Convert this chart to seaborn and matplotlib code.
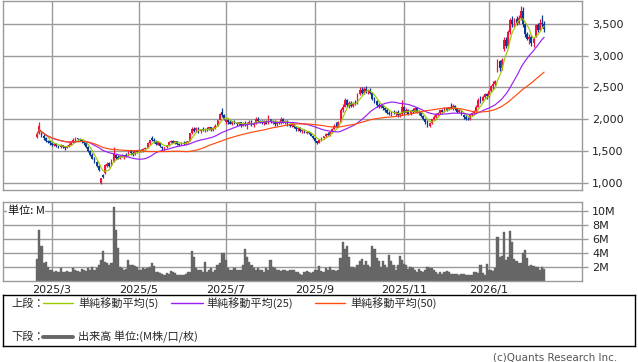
import numpy as np
import pandas as pd
import matplotlib
matplotlib.use("Agg")
import matplotlib.pyplot as plt
import seaborn as sns

# ---------------- data ----------------
start_date = "2025-02-19"
jp_holidays = ["2025-02-24", "2025-03-20", "2025-04-29", "2025-05-05", "2025-05-06",
               "2025-07-21", "2025-08-11", "2025-09-15", "2025-09-23", "2025-10-13",
               "2025-11-03", "2025-11-24", "2025-12-31", "2026-01-01", "2026-01-02",
               "2026-01-12", "2026-02-11"]

open_ = [1720, 1780, 1800, 1740, 1700, 1660, 1650, 1620, 1590, 1610,
         1580, 1560, 1590, 1560, 1550, 1570, 1600, 1640, 1680, 1700,
         1690, 1680, 1660, 1620, 1560, 1500, 1440, 1380, 1320, 1260,
         1000, 1120, 1150, 1270, 1310, 1280, 1340, 1440, 1400, 1390,
         1420, 1410, 1440, 1430, 1500, 1470, 1450, 1500, 1490, 1510,
         1500, 1530, 1550, 1620, 1700, 1680, 1650, 1600, 1630, 1570,
         1540, 1560, 1590, 1640, 1660, 1630, 1650, 1610, 1600, 1630,
         1610, 1640, 1660, 1780, 1850, 1830, 1860, 1810, 1840, 1830,
         1850, 1840, 1870, 1830, 1860, 1900, 1990, 2120, 2060, 1960,
         1990, 1950, 1930, 1960, 1940, 1920, 1950, 1900, 1940, 1920,
         1930, 1960, 1910, 1940, 2010, 1970, 1960, 1940, 1970, 1930,
         2000, 1950, 1960, 1920, 1950, 1940, 2000, 1960, 1970, 1910,
         1890, 1920, 1870, 1840, 1860, 1810, 1830, 1790, 1800, 1780,
         1740, 1700, 1650, 1630, 1670, 1700, 1730, 1760, 1750, 1800,
         1850, 1900, 1880, 1960, 2150, 2200, 2300, 2230, 2260, 2210,
         2250, 2250, 2400, 2460, 2420, 2480, 2440, 2460, 2410, 2320,
         2280, 2230, 2200, 2220, 2170, 2150, 2100, 2080, 2110, 2090,
         2120, 2060, 2080, 2200, 2100, 2150, 2080, 2140, 2120, 2180,
         2100, 2120, 2050, 2000, 1950, 1900, 1940, 2000, 2040, 2080,
         2100, 2140, 2120, 2170, 2150, 2190, 2180, 2210, 2160, 2120,
         2140, 2070, 2030, 2010, 2000, 2060, 2100, 2130, 2200, 2300,
         2280, 2350, 2400, 2360, 2440, 2520, 2560, 2750, 2920, 2800,
         3100, 3250, 3150, 3380, 3560, 3480, 3580, 3520, 3600, 3700,
         3500, 3340, 3260, 3300, 3200, 3300, 3480, 3400, 3520, 3500]

high = [1790, 1950, 1810, 1760, 1720, 1680, 1660, 1640, 1630, 1620,
        1590, 1610, 1600, 1580, 1590, 1620, 1660, 1700, 1720, 1710,
        1700, 1690, 1670, 1630, 1580, 1510, 1460, 1400, 1340, 1280,
        1080, 1140, 1300, 1320, 1330, 1380, 1560, 1450, 1430, 1440,
        1450, 1440, 1460, 1520, 1510, 1500, 1520, 1520, 1530, 1530,
        1540, 1560, 1640, 1680, 1730, 1700, 1670, 1650, 1640, 1580,
        1570, 1600, 1650, 1680, 1670, 1660, 1660, 1630, 1640, 1650,
        1650, 1660, 1790, 1870, 1880, 1880, 1870, 1850, 1870, 1860,
        1870, 1880, 1880, 1870, 1920, 1990, 2100, 2180, 2080, 2010,
        2000, 1980, 1970, 1990, 1960, 1960, 1960, 1950, 1970, 1950,
        1980, 1980, 1950, 2040, 2030, 1990, 1990, 1980, 1980, 2070,
        2010, 1980, 1980, 1960, 1970, 2040, 2020, 1990, 1980, 1930,
        1940, 1930, 1880, 1880, 1870, 1840, 1840, 1820, 1810, 1790,
        1750, 1710, 1660, 1680, 1720, 1740, 1780, 1800, 1810, 1860,
        1920, 1960, 1970, 2180, 2240, 2340, 2320, 2280, 2280, 2270,
        2300, 2420, 2510, 2500, 2500, 2530, 2480, 2490, 2430, 2350,
        2300, 2260, 2240, 2230, 2200, 2180, 2130, 2120, 2150, 2130,
        2140, 2100, 2300, 2210, 2170, 2160, 2150, 2180, 2200, 2190,
        2140, 2130, 2060, 2020, 1980, 1960, 2010, 2060, 2100, 2120,
        2150, 2160, 2190, 2200, 2200, 2250, 2240, 2220, 2180, 2160,
        2150, 2080, 2060, 2040, 2080, 2120, 2140, 2220, 2330, 2360,
        2380, 2420, 2420, 2460, 2540, 2600, 2620, 2950, 2940, 2960,
        3300, 3300, 3400, 3600, 3620, 3600, 3620, 3640, 3780, 3760,
        3520, 3380, 3340, 3320, 3300, 3500, 3520, 3580, 3640, 3540]

low = [1710, 1770, 1720, 1680, 1640, 1620, 1600, 1580, 1580, 1560,
       1540, 1550, 1540, 1520, 1540, 1560, 1590, 1630, 1660, 1660,
       1650, 1630, 1600, 1540, 1490, 1420, 1370, 1310, 1250, 1180,
       980, 1070, 1140, 1240, 1250, 1270, 1330, 1370, 1370, 1370,
       1400, 1380, 1410, 1420, 1440, 1420, 1440, 1470, 1480, 1480,
       1490, 1510, 1540, 1600, 1660, 1630, 1600, 1590, 1570, 1520,
       1520, 1540, 1580, 1620, 1620, 1610, 1600, 1580, 1590, 1600,
       1600, 1620, 1650, 1760, 1800, 1800, 1790, 1790, 1810, 1800,
       1820, 1830, 1820, 1810, 1850, 1890, 1980, 2040, 1990, 1920,
       1930, 1920, 1910, 1930, 1900, 1910, 1880, 1890, 1900, 1840,
       1920, 1900, 1880, 1930, 1950, 1940, 1920, 1910, 1920, 1920,
       1940, 1920, 1900, 1890, 1930, 1930, 1940, 1920, 1900, 1870,
       1880, 1860, 1820, 1820, 1800, 1790, 1780, 1770, 1770, 1730,
       1690, 1640, 1610, 1620, 1660, 1690, 1720, 1740, 1740, 1790,
       1840, 1870, 1870, 1950, 2120, 2190, 2200, 2180, 2190, 2200,
       2220, 2240, 2380, 2400, 2400, 2420, 2400, 2390, 2300, 2260,
       2200, 2180, 2170, 2150, 2120, 2080, 2060, 2050, 2080, 2050,
       2040, 2040, 2060, 2080, 2090, 2060, 2070, 2100, 2110, 2090,
       2060, 2040, 1980, 1920, 1870, 1880, 1930, 1980, 2020, 2050,
       2080, 2100, 2110, 2130, 2140, 2160, 2150, 2140, 2100, 2090,
       2060, 2010, 1990, 1980, 1990, 2050, 2080, 2120, 2190, 2260,
       2270, 2330, 2320, 2350, 2430, 2480, 2520, 2740, 2760, 2780,
       3080, 3120, 3140, 3350, 3460, 3450, 3480, 3500, 3560, 3450,
       3300, 3240, 3180, 3150, 3140, 3290, 3380, 3390, 3460, 3380]

close = [1770, 1900, 1740, 1700, 1660, 1640, 1620, 1600, 1610, 1580,
         1560, 1590, 1560, 1550, 1570, 1600, 1640, 1680, 1700, 1690,
         1680, 1660, 1620, 1560, 1500, 1440, 1380, 1320, 1260, 1200,
         1070, 1090, 1280, 1300, 1270, 1360, 1450, 1390, 1380, 1420,
         1410, 1430, 1420, 1500, 1460, 1440, 1500, 1480, 1520, 1490,
         1530, 1550, 1620, 1670, 1680, 1650, 1610, 1640, 1580, 1540,
         1560, 1590, 1640, 1660, 1630, 1650, 1610, 1600, 1630, 1610,
         1640, 1650, 1780, 1850, 1820, 1860, 1800, 1840, 1830, 1850,
         1840, 1870, 1830, 1860, 1900, 1980, 2080, 2060, 2000, 1990,
         1950, 1930, 1960, 1940, 1920, 1950, 1900, 1940, 1920, 1930,
         1960, 1910, 1940, 2010, 1970, 1960, 1940, 1970, 1930, 2040,
         1950, 1960, 1920, 1950, 1940, 2000, 1960, 1970, 1910, 1890,
         1920, 1870, 1840, 1860, 1810, 1830, 1790, 1800, 1780, 1740,
         1700, 1650, 1630, 1670, 1700, 1730, 1760, 1750, 1800, 1850,
         1900, 1880, 1950, 2150, 2200, 2300, 2230, 2260, 2210, 2250,
         2240, 2400, 2460, 2420, 2480, 2440, 2460, 2410, 2320, 2280,
         2230, 2200, 2220, 2170, 2150, 2100, 2080, 2110, 2090, 2120,
         2060, 2080, 2200, 2100, 2150, 2080, 2140, 2120, 2180, 2100,
         2120, 2050, 2000, 1950, 1900, 1940, 2000, 2040, 2080, 2100,
         2140, 2120, 2170, 2150, 2190, 2180, 2210, 2160, 2120, 2140,
         2070, 2030, 2010, 2000, 2060, 2100, 2130, 2200, 2300, 2280,
         2350, 2400, 2360, 2440, 2520, 2560, 2600, 2920, 2800, 2940,
         3250, 3150, 3380, 3560, 3500, 3580, 3520, 3600, 3700, 3500,
         3340, 3260, 3300, 3200, 3270, 3480, 3400, 3520, 3500, 3420]

volume_m = [3.1, 7.3, 5.0, 2.6, 2.7, 1.9, 1.6, 1.5, 1.3, 1.4,
            1.2, 1.8, 1.3, 1.2, 1.4, 1.3, 1.3, 1.8, 1.6, 1.4,
            1.3, 1.7, 1.5, 1.4, 1.8, 1.5, 2.0, 1.6, 1.8, 2.2,
            3.0, 4.2, 2.7, 2.5, 2.3, 2.5, 10.6, 7.3, 4.7, 2.0,
            1.8, 1.5, 1.7, 2.9, 2.3, 2.3, 2.1, 2.0, 1.6, 1.5,
            1.8, 1.7, 1.8, 1.9, 2.6, 2.1, 1.3, 1.2, 1.1, 0.9,
            0.8, 1.1, 1.0, 1.4, 1.2, 1.1, 0.8, 0.8, 0.8, 0.8,
            0.9, 1.2, 1.3, 4.3, 3.4, 1.8, 1.6, 1.5, 1.3, 2.7,
            1.2, 1.5, 1.8, 1.3, 1.5, 2.3, 2.5, 4.0, 4.0, 2.9,
            1.8, 1.5, 1.6, 1.8, 1.6, 1.5, 1.6, 2.3, 4.6, 3.4,
            2.7, 2.3, 1.8, 1.5, 1.8, 1.6, 1.5, 1.3, 1.8, 1.5,
            2.9, 2.0, 1.8, 1.6, 1.5, 1.4, 1.6, 1.6, 1.4, 1.6,
            1.6, 1.5, 1.3, 1.2, 1.0, 0.8, 1.2, 1.4, 1.3, 1.1,
            1.3, 1.6, 1.5, 2.1, 1.4, 1.3, 1.8, 1.6, 1.9, 1.5,
            1.5, 1.4, 1.6, 3.2, 5.6, 4.5, 5.0, 3.4, 2.0, 1.9,
            1.8, 2.3, 2.8, 3.1, 2.3, 2.8, 2.3, 2.0, 5.0, 4.5,
            3.2, 2.8, 2.0, 2.8, 2.3, 1.8, 3.7, 2.8, 2.2, 1.6,
            2.3, 3.5, 3.0, 2.4, 2.3, 1.7, 1.9, 1.8, 1.6, 1.3,
            1.7, 1.4, 1.3, 1.6, 2.0, 1.8, 1.8, 1.6, 1.3, 1.0,
            1.3, 1.0, 1.2, 1.4, 1.3, 1.0, 1.0, 0.9, 0.9, 0.8,
            0.9, 0.9, 0.8, 0.8, 0.8, 0.8, 1.3, 1.2, 1.1, 2.2,
            1.1, 0.8, 2.4, 1.6, 1.5, 1.4, 1.8, 6.3, 3.4, 3.5,
            7.0, 3.0, 3.4, 7.1, 5.6, 3.1, 2.8, 2.6, 2.6, 4.0,
            4.4, 3.3, 2.1, 2.3, 2.1, 2.0, 2.0, 1.6, 2.0, 1.7]

price_ticks = [1000, 1500, 2000, 2500, 3000, 3500]
volume_ticks = [2, 4, 6, 8, 10]
tick_months = [1, 3, 5, 7, 9, 11]
ma_windows = [5, 25, 50]
legend_top = "上段："
legend_bottom = "下段："
ma_labels = ["単純移動平均(5)", "単純移動平均(25)", "単純移動平均(50)"]
volume_label = "出来高 単位:(M株/口/枚)"
unit_label = "単位: M"
credit = "(c)Quants Research Inc."

# ---------------- style ----------------
sns.set_style("white")
plt.rcParams['font.family'] = ['DejaVu Sans', 'Noto Sans CJK JP']
JP = ['Noto Sans CJK JP', 'DejaVu Sans']

RED = '#f0143c'
BLUE = '#0a3a96'
MA_COLORS = ['#99cc00', '#9b1ff5', '#ff4a10']
VOL_COLOR = '#666666'
GRID = '#9a9a9a'

dates = pd.bdate_range(start=start_date, periods=len(close), freq='C', holidays=jp_holidays)
df = pd.DataFrame({'date': dates, 'open': open_, 'high': high, 'low': low,
                   'close': close, 'volume': volume_m})
df['pos'] = np.arange(len(df))
for w in ma_windows:
    df[f'ma{w}'] = df['close'].rolling(w, min_periods=1).mean()

new_month = df['date'].dt.month.ne(df['date'].dt.month.shift())
tick_rows = df[new_month & df['date'].dt.month.isin(tick_months)]
tick_pos = tick_rows['pos'].tolist()
tick_lab = [f"{d.year}/{d.month}" for d in tick_rows['date']]

W, H = 638, 362
fig = plt.figure(figsize=(W / 100, H / 100), dpi=100)


def rect(l, t, r, b):
    return [l / W, 1 - b / H, (r - l) / W, (b - t) / H]


ax = fig.add_axes(rect(3.3, 0.7, 582.3, 190.3))
axv = fig.add_axes(rect(3.3, 201.7, 582.3, 280.7))
axl = fig.add_axes(rect(3.3, 295, 635.3, 346))

xlim = (-16.0, 257.0)

# ---------------- price panel ----------------
up = df['close'] >= df['open']
cols = np.where(up, RED, BLUE)
ax.vlines(df['pos'], df['low'], df['high'], colors=cols, linewidth=0.9, zorder=2)
body = (df['close'] - df['open']).abs().clip(lower=10)
ax.bar(df['pos'], body, bottom=np.minimum(df['open'], df['close']), width=0.85,
       color=cols, linewidth=0, zorder=2)
for w, c in zip(ma_windows, MA_COLORS):
    sns.lineplot(data=df, x='pos', y=f'ma{w}', color=c, linewidth=0.85, ax=ax, zorder=3)

ax.set_xlim(*xlim)
ax.set_ylim(880, 3867)
ax.set_yticks(price_ticks)
ax.set_yticklabels([f"{v:,}" for v in price_ticks])
ax.set_xticks(tick_pos)
ax.set_xticklabels([])
ax.set_axisbelow(True)
ax.grid(True, color=GRID, linewidth=1.0)
ax.tick_params(axis='y', left=False, right=True, labelleft=False, labelright=True,
               length=4, width=1.0, color=GRID, labelsize=8, pad=3, labelcolor='#222222')
ax.tick_params(axis='x', length=0)
ax.set_xlabel('')
ax.set_ylabel('')
for s in ax.spines.values():
    s.set_color(GRID)
    s.set_linewidth(1.0)

# ---------------- volume panel ----------------
sns.barplot(data=df, x='pos', y='volume', native_scale=True, color=VOL_COLOR,
            saturation=1, width=1.0, linewidth=0.3, edgecolor=VOL_COLOR,
            errorbar=None, ax=axv, zorder=2)
axv.set_xlim(*xlim)
axv.set_ylim(0, 11.3)
axv.set_yticks(volume_ticks)
axv.set_yticklabels([f"{v}M" for v in volume_ticks])
axv.set_xticks(tick_pos)
axv.set_xticklabels(tick_lab)
axv.set_axisbelow(True)
axv.grid(True, color=GRID, linewidth=1.0)
axv.tick_params(axis='y', left=False, right=True, labelleft=False, labelright=True,
                length=4, width=1.0, color=GRID, labelsize=8, pad=3, labelcolor='#222222')
axv.tick_params(axis='x', length=0, labelsize=8, pad=3, labelcolor='#222222')
axv.set_xlabel('')
axv.set_ylabel('')
for s in axv.spines.values():
    s.set_color(GRID)
    s.set_linewidth(1.0)
axv.text(0.008, 0.885, unit_label, transform=axv.transAxes, family=JP, fontsize=8,
         ha='left', va='center', color='#111111', zorder=5,
         bbox=dict(facecolor='white', edgecolor='none', pad=0.5))

# ---------------- legend box ----------------
axl.set_xlim(0, 632)
axl.set_ylim(51, 0)
axl.set_xticks([])
axl.set_yticks([])
for s in axl.spines.values():
    s.set_color('black')
    s.set_linewidth(1.0)
row1, row2 = 8.3, 41.5
axl.text(8.5, row1, legend_top, family=JP, fontsize=8, va='center', ha='left')
line_x = [(39.7, 69.7), (167.7, 199.7), (311.7, 341.7)]
text_x = [74.7, 202.7, 346.7]
for (x0, x1), tx, c, lab in zip(line_x, text_x, MA_COLORS, ma_labels):
    axl.plot([x0, x1], [row1, row1], color=c, linewidth=1.0)
    axl.text(tx, row1, lab, family=JP, fontsize=8, va='center', ha='left')
axl.text(8.5, row2, legend_bottom, family=JP, fontsize=8, va='center', ha='left')
axl.plot([39.7, 69.7], [row2, row2], color=VOL_COLOR, linewidth=2.8)
axl.text(74.7, row2, volume_label, family=JP, fontsize=8, va='center', ha='left')

fig.text(617 / W, 1 - 357.5 / H, credit, ha='right', va='center', fontsize=7.5,
         color='#555555')

fig.savefig('out.png', dpi=100)
